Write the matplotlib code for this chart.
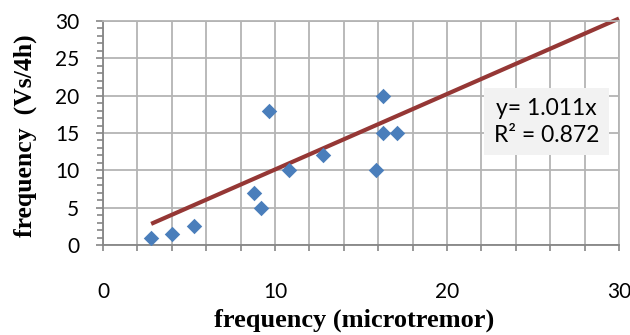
import numpy as np
import matplotlib.pyplot as plt
from matplotlib.ticker import MultipleLocator

# microtremor frequency vs frequency from Vs/4h
freq_micro = [2.8, 4.0, 5.3, 8.8, 9.2, 9.65, 10.8, 12.8, 15.9, 16.3, 16.3, 17.1]
freq_vs = [1.0, 1.5, 2.5, 7.0, 5.0, 18.0, 10.0, 12.0, 10.0, 20.0, 15.0, 15.0]
slope = 1.011
r2 = 0.872

fig = plt.figure(figsize=(6.3, 3.35), dpi=100)
ax = fig.add_axes([103 / 630, 1 - 245 / 335, 516 / 630, 224 / 335])

grid_col = '#b4b4b4'
axis_col = '#868686'

ax.set_xlim(0, 30)
ax.set_ylim(0, 30)
ax.xaxis.set_major_locator(MultipleLocator(2))
ax.yaxis.set_major_locator(MultipleLocator(5))
ax.yaxis.set_minor_locator(MultipleLocator(1))
ax.set_xticklabels([str(int(v)) if v % 10 == 0 else '' for v in ax.get_xticks()])

ax.grid(True, which='major', color=grid_col, linewidth=1.3)
ax.set_axisbelow(True)
for s in ['top', 'right']:
    ax.spines[s].set_color(grid_col)
    ax.spines[s].set_linewidth(1.3)
for s in ['left', 'bottom']:
    ax.spines[s].set_color(axis_col)
    ax.spines[s].set_linewidth(1.3)

ax.tick_params(axis='both', which='both', color=axis_col, width=1.2, labelsize=15, labelcolor='black')
ax.tick_params(axis='x', which='major', direction='out', length=4, pad=23)
ax.tick_params(axis='y', which='major', direction='out', length=5, pad=12)
ax.tick_params(axis='y', which='minor', direction='out', length=4)
for lab in ax.get_xticklabels() + ax.get_yticklabels():
    lab.set_family('Lato')

# trend line through origin
xs = np.array([min(freq_micro), 30])
ax.plot(xs, slope * xs, color='#953735', linewidth=3, zorder=2, clip_on=False,
        solid_capstyle='butt')
ax.scatter(freq_micro, freq_vs, marker='D', s=62, color='#4a7ebb', zorder=3, linewidths=0)

ax.text(0.860, 0.551, 'y= 1.011x\nR² = {:.3f}'.format(r2), transform=ax.transAxes,
        ha='center', va='center', fontsize=16.5, family='Lato', linespacing=1.35,
        bbox=dict(facecolor='#f2f2f2', edgecolor='none', pad=7))

ax.set_xlabel('frequency (microtremor)', family='Liberation Serif', fontweight='bold',
              fontsize=19)
ax.xaxis.set_label_coords(0.487, -0.285)
ax.xaxis.label.set_va('top')
ax.set_ylabel('frequency  (Vs/4h)', family='Liberation Serif', fontweight='bold',
              fontsize=18.5)
ax.yaxis.set_label_coords(-0.128, 0.49)

fig.savefig('out.png', dpi=100)
